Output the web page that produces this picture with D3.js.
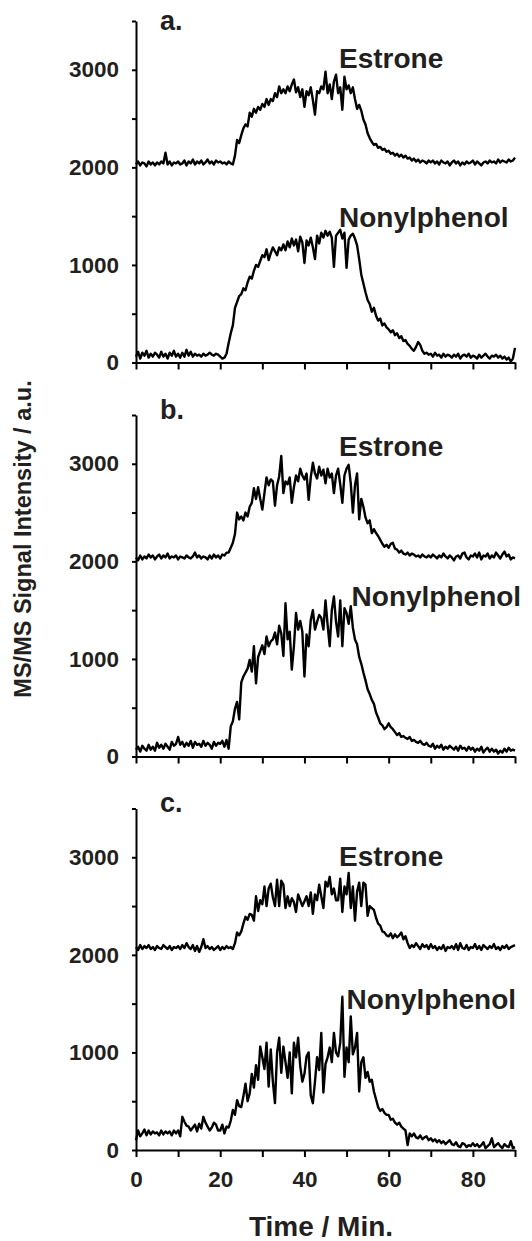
<!DOCTYPE html>
<html>
<head>
<meta charset="utf-8">
<script src="https://cdn.jsdelivr.net/npm/d3@7"></script>
<style>
  body { margin: 0; background: #fff; }
  svg { display: block; }
  text { font-family: "Liberation Sans", Arial, sans-serif; font-weight: bold; fill: #231f20; }
</style>
</head>
<body>
<svg id="chart" width="532" height="1241"></svg>
<script>
// time axis: one reading every 0.5 min, 0..90 min
var timeStep = 0.5;
var xTicks = [0, 10, 20, 30, 40, 50, 60, 70, 80, 90];
var xLabels = [0, 20, 40, 60, 80];
var yTicks = [0, 500, 1000, 1500, 2000, 2500, 3000, 3500];
var yLabels = [0, 1000, 2000, 3000];
var panelNames = ["a.", "b.", "c."];
var seriesNames = ["Estrone", "Nonylphenol"];

// panel a
var estroneA = [
  2030,2060,2020,2050,2040,2010,2060,2030,2050,2020,
  2050,2030,2060,2040,2150,2030,2060,2020,2050,2040,
  2060,2030,2040,2070,2020,2060,2040,2080,2030,2060,
  2040,2070,2030,2050,2080,2040,2060,2030,2070,2050,
  2060,2040,2050,2030,2060,2040,2030,2120,2280,2250,
  2330,2400,2440,2420,2560,2520,2600,2560,2620,2590,
  2650,2620,2700,2640,2700,2680,2760,2720,2830,2760,
  2800,2760,2830,2780,2850,2900,2770,2820,2720,2800,
  2620,2780,2740,2820,2690,2540,2780,2760,2830,2800,
  2980,2760,2850,2700,2880,2950,2760,2820,2590,2930,
  2800,2840,2760,2820,2700,2600,2640,2580,2490,2440,
  2350,2300,2260,2230,2240,2200,2210,2180,2190,2160,
  2170,2140,2150,2120,2140,2110,2130,2100,2120,2090,
  2100,2070,2090,2060,2080,2050,2070,2060,2040,2070,
  2050,2070,2040,2060,2030,2070,2050,2040,2060,2020,
  2050,2070,2040,2060,2020,2050,2030,2060,2040,2050,
  2070,2030,2060,2040,2020,2050,2060,2040,2070,2050,
  2060,2040,2080,2050,2070,2060,2050,2080,2060,2070,
  2100
];
var nonylA = [
  60,110,40,100,70,120,50,90,60,100,
  80,50,110,60,90,40,100,70,120,60,
  90,50,100,60,130,70,110,60,90,70,
  80,60,90,70,80,100,80,70,90,80,
  60,40,50,90,200,300,380,560,620,680,
  700,760,740,820,880,860,940,1000,980,1040,
  1100,1080,1160,1050,1120,1180,1140,1100,1180,1150,
  1210,1150,1240,1180,1270,1200,1260,1140,1290,1230,
  1020,1250,1200,1280,1180,1060,1300,1220,1330,1280,
  1350,1300,1340,1280,980,1300,1330,1360,1270,1330,
  970,1260,1300,1320,1270,1200,1060,900,810,720,
  640,600,520,560,480,430,450,380,400,360,
  340,310,330,280,300,250,270,220,230,190,
  170,140,120,160,210,180,120,90,100,80,
  90,60,100,70,80,50,90,60,80,70,
  50,80,60,90,40,70,80,60,90,50,
  70,60,40,80,50,70,90,60,40,70,
  60,80,50,70,40,60,30,50,10,40,
  150
];

// panel b
var estroneB = [
  2040,2010,2060,2020,2050,2030,2070,2040,2060,2020,
  2050,2070,2030,2060,2040,2080,2030,2050,2040,2060,
  2020,2050,2040,2030,2060,2040,2030,2050,2090,2040,
  2060,2030,2050,2040,2020,2060,2030,2070,2040,2060,
  2030,2070,2060,2090,2090,2140,2190,2280,2500,2430,
  2460,2420,2500,2460,2560,2600,2750,2640,2760,2640,
  2530,2700,2860,2780,2840,2820,2570,2780,2870,3080,
  2700,2820,2790,2860,2600,2760,2880,2820,2950,2880,
  2840,2900,2630,2860,3010,2900,2850,2970,2880,2940,
  2800,2950,2860,2900,2700,2880,2950,2790,2600,2880,
  2950,2990,2800,2500,2780,2900,2430,2640,2560,2450,
  2390,2420,2290,2330,2290,2260,2220,2180,2150,2170,
  2140,2180,2190,2130,2120,2090,2110,2080,2070,2090,
  2060,2080,2070,2050,2060,2040,2070,2050,2040,2060,
  2040,2070,2050,2030,2060,2040,2080,2050,2030,2060,
  2040,2010,2050,2060,2030,2080,2090,2040,2020,2060,
  2050,2080,2040,2090,2020,2060,2050,2080,2030,2060,
  2040,2090,2060,2030,2070,2100,2050,2070,2020,2040,
  2030
];
var nonylB = [
  70,100,50,110,80,60,120,70,100,60,
  140,90,120,80,130,100,70,150,110,130,
  200,120,150,100,140,110,160,90,150,120,
  130,100,160,110,140,120,80,150,110,140,
  130,160,100,170,80,310,360,490,560,380,
  760,820,860,900,990,870,1130,750,1020,1080,
  1140,1050,1230,1130,1180,1200,1270,1150,1340,1260,
  1030,1570,1200,1280,890,1130,1470,1300,1390,1280,
  820,1250,1130,1400,1500,1300,1380,1450,1420,1300,
  1600,1350,1130,1500,1640,1380,1230,1600,1130,1520,
  1470,1360,1540,1320,1200,1150,1020,950,860,780,
  690,640,580,540,450,400,340,320,280,300,
  340,300,280,250,220,240,200,210,190,180,
  200,160,170,150,140,160,130,120,140,110,
  100,130,80,110,90,120,70,100,80,110,
  90,70,100,60,110,80,90,60,100,70,
  90,50,80,60,100,40,70,90,50,80,
  50,70,30,60,40,80,50,90,60,70,
  60
];

// panel c
var estroneC = [
  2080,2050,2100,2060,2090,2070,2100,2060,2080,2050,
  2090,2070,2060,2100,2080,2060,2090,2050,2080,2070,
  2090,2060,2100,2070,2120,2080,2060,2100,2040,2090,
  2030,2080,2160,2070,2090,2060,2080,2050,2070,2090,
  2050,2080,2060,2090,2070,2080,2060,2120,2230,2200,
  2240,2320,2390,2360,2420,2410,2350,2600,2450,2560,
  2520,2700,2500,2680,2730,2590,2500,2770,2500,2760,
  2720,2480,2600,2500,2580,2540,2440,2620,2560,2500,
  2550,2600,2500,2640,2420,2620,2560,2720,2600,2480,
  2750,2700,2800,2620,2680,2560,2560,2780,2440,2700,
  2620,2840,2480,2700,2350,2650,2740,2500,2740,2720,
  2400,2500,2480,2460,2380,2320,2300,2240,2230,2200,
  2190,2220,2170,2210,2180,2200,2230,2160,2190,2120,
  2070,2100,2080,2120,2090,2060,2110,2080,2100,2060,
  2110,2070,2090,2050,2080,2060,2100,2040,2080,2070,
  2090,2060,2110,2050,2120,2070,2060,2100,2050,2080,
  2070,2110,2060,2090,2050,2100,2080,2060,2090,2070,
  2110,2060,2080,2050,2090,2070,2100,2060,2080,2090,
  2100
];
var nonylC = [
  100,200,140,170,210,150,200,160,190,170,
  180,150,200,160,190,170,190,150,200,170,
  200,140,340,290,250,240,200,230,260,190,
  270,220,340,280,240,200,230,280,260,200,
  200,260,170,240,230,300,410,360,510,450,
  440,550,680,500,580,780,640,870,720,1060,
  950,830,1100,650,1030,700,480,1000,1150,790,
  1060,900,740,1000,580,1100,950,1150,860,700,
  780,960,1000,560,480,700,950,820,1200,590,
  880,950,1050,900,1200,1000,960,1100,1570,750,
  1050,900,1370,980,1050,1200,600,900,950,740,
  800,700,720,600,520,440,400,420,380,360,
  360,310,320,280,260,280,240,220,200,50,
  170,140,170,130,120,150,110,130,140,100,
  120,90,110,80,100,70,90,60,80,100,
  60,50,80,40,30,70,60,30,50,40,
  70,40,60,30,50,80,20,40,60,120,
  30,50,70,40,20,60,40,30,90,20,
  30
];

var panelSeries = [[estroneA, nonylA], [estroneB, nonylB], [estroneC, nonylC]];

// where the text labels sit, in data units (time, intensity)
var seriesLabelPos = [
  [[48.2, 3020], [48.2, 1390]],
  [[48.2, 3077], [51.2, 1538]],
  [[48.2, 2906], [50.0, 1443]]
];
var panelLabelPos = [[5.7, 3408], [5.7, 3464], [5.7, 3467]];

var svg = d3.select("#chart");
var ink = "#231f20";
var plotLeft = 136, plotRight = 515, plotH = 341.5;
var panelTop = [21, 415, 808.5];

var x = d3.scaleLinear().domain([0, 90]).range([plotLeft, plotRight]);

panelSeries.forEach(function (series, p) {
  var top = panelTop[p];
  var y = d3.scaleLinear().domain([0, 3500]).range([top + plotH, top]);
  var g = svg.append("g").attr("class", "panel");

  var line = d3.line()
    .x(function (d, i) { return x(i * timeStep); })
    .y(function (d) { return y(d); });

  series.forEach(function (vals) {
    g.append("path")
      .datum(vals)
      .attr("d", line)
      .attr("fill", "none")
      .attr("stroke", "#000")
      .attr("stroke-width", 2.4)
      .attr("stroke-linejoin", "round");
  });

  // axes
  var yAxis = d3.axisLeft(y)
    .tickValues(yTicks)
    .tickSize(4)
    .tickSizeOuter(0)
    .tickPadding(13)
    .tickFormat(function (d) { return yLabels.indexOf(d) >= 0 ? d : ""; });
  var ya = g.append("g")
    .attr("transform", "translate(" + plotLeft + ",0)")
    .call(yAxis);

  var xAxis = d3.axisBottom(x)
    .tickValues(xTicks)
    .tickSize(7)
    .tickSizeOuter(0)
    .tickPadding(14)
    .tickFormat(function (d) { return (p === 2 && xLabels.indexOf(d) >= 0) ? d : ""; });
  var xa = g.append("g")
    .attr("transform", "translate(0," + y(0) + ")")
    .call(xAxis);

  [ya, xa].forEach(function (a) {
    a.attr("font-family", null).attr("font-size", null);
    a.selectAll("path, line").attr("stroke", "#000").attr("stroke-width", 2);
    a.selectAll("text").attr("fill", ink).style("font-size", "22.5px");
  });

  // labels
  seriesNames.forEach(function (name, s) {
    var pos = seriesLabelPos[p][s];
    g.append("text")
      .attr("x", x(pos[0]))
      .attr("y", y(pos[1]))
      .style("font-size", "28px")
      .text(name);
  });
  g.append("text")
    .attr("x", x(panelLabelPos[p][0]))
    .attr("y", y(panelLabelPos[p][1]))
    .style("font-size", "27px")
    .text(panelNames[p]);
});

// axis titles
svg.append("text")
  .attr("transform", "translate(31,539) rotate(-90)")
  .attr("text-anchor", "middle")
  .style("font-size", "23.5px")
  .text("MS/MS Signal Intensity / a.u.");

svg.append("text")
  .attr("x", 321)
  .attr("y", 1236)
  .attr("text-anchor", "middle")
  .style("font-size", "28px")
  .text("Time / Min.");
</script>
</body>
</html>
